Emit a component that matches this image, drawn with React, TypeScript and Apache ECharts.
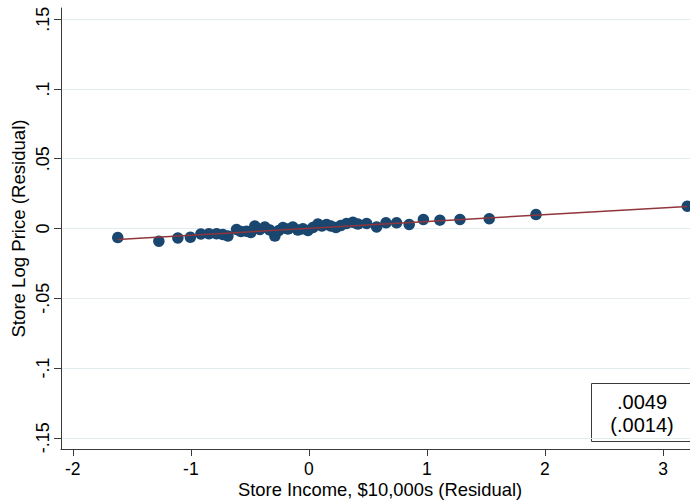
import React, { useEffect, useRef } from "react";
import * as echarts from "echarts";

// Binned scatter points (x: income residual, y: log price residual)
const binX = [
  -1.619, -1.271, -1.11, -1.004, -0.915, -0.847, -0.782, -0.729, -0.686, -0.613,
  -0.576, -0.528, -0.492, -0.458, -0.415, -0.373, -0.331, -0.288, -0.254, -0.22,
  -0.178, -0.136, -0.093, -0.051, -0.008, 0.034, 0.076, 0.11, 0.15, 0.186,
  0.229, 0.271, 0.319, 0.373, 0.415, 0.489, 0.574, 0.653, 0.743, 0.85,
  0.97, 1.11, 1.28, 1.528, 1.924, 3.206,
];
const binY = [
  -0.0065, -0.0091, -0.0068, -0.0063, -0.0039, -0.0038, -0.0038, -0.0043, -0.0054, -0.0007,
  -0.0022, -0.0019, -0.0029, 0.0018, -0.0007, 0.0011, -0.0011, -0.0054, -0.0014, 0.0007,
  -0.0004, 0.0011, -0.0011, -0.0002, -0.0014, 0.0007, 0.0032, 0.0018, 0.0029, 0.0018,
  0.0007, 0.0022, 0.0036, 0.0045, 0.0032, 0.0036, 0.0011, 0.0041, 0.0041, 0.0029,
  0.0065, 0.006, 0.0065, 0.007, 0.01, 0.016,
];

// Fitted line endpoints
const fitX = [-1.619, 3.206];
const fitY = [-0.0078, 0.0158];

const yTickValues = [-0.15, -0.1, -0.05, 0, 0.05, 0.1, 0.15];
const yTickLabels = ["-.15", "-.1", "-.05", "0", ".05", ".1", ".15"];
const xTickValues = [-2, -1, 0, 1, 2, 3];
const xTickLabels = ["-2", "-1", "0", "1", "2", "3"];

const xTitle = "Store Income, $10,000s (Residual)";
const yTitle = "Store Log Price (Residual)";
const coefLabel = ".0049";
const seLabel = "(.0014)";

const FONT = "'Liberation Sans', Arial, sans-serif";

export default function App() {
  const ref = useRef<HTMLDivElement>(null);

  useEffect(() => {
    if (!ref.current) return;
    const chart = echarts.init(ref.current, null, { renderer: "svg" });

    const findLabel = (vals: number[], labels: string[], v: number) => {
      const i = vals.findIndex((t) => Math.abs(t - v) < 1e-9);
      return i >= 0 ? labels[i] : "";
    };

    chart.setOption({
      animation: false,
      backgroundColor: "#ffffff",
      textStyle: { fontFamily: FONT },
      grid: {
        left: 61,
        right: -9,
        top: 8,
        bottom: 52,
        containLabel: false,
        outerBoundsMode: "none",
      },
      xAxis: {
        type: "value",
        min: -2.1,
        max: 3.305,
        name: xTitle,
        nameLocation: "middle",
        nameGap: 31,
        nameMoveOverlap: false,
        nameTextStyle: { fontSize: 18.4, color: "#000", fontFamily: FONT },
        axisLine: { show: true, onZero: false, lineStyle: { color: "#3a3a3a", width: 1 } },
        axisTick: {
          show: true,
          length: 7,
          customValues: xTickValues,
          lineStyle: { color: "#3a3a3a", width: 1 },
        },
        axisLabel: {
          customValues: xTickValues,
          margin: 11,
          fontSize: 17.5,
          color: "#000",
          fontFamily: FONT,
          formatter: (v: number) => findLabel(xTickValues, xTickLabels, v),
        },
        splitLine: { show: false },
      },
      yAxis: {
        type: "value",
        min: -0.158,
        max: 0.158,
        name: yTitle,
        nameLocation: "middle",
        nameGap: 33,
        nameMoveOverlap: false,
        nameTextStyle: { fontSize: 18.6, color: "#000", fontFamily: FONT },
        axisLine: { show: true, onZero: false, lineStyle: { color: "#3a3a3a", width: 1 } },
        axisTick: {
          show: true,
          length: 7,
          customValues: yTickValues,
          lineStyle: { color: "#3a3a3a", width: 1 },
        },
        axisLabel: {
          customValues: yTickValues,
          rotate: 90,
          margin: 9,
          fontSize: 18,
          color: "#000",
          fontFamily: FONT,
          formatter: (v: number) => findLabel(yTickValues, yTickLabels, v),
        },
        splitLine: { show: true, lineStyle: { color: "#e3ecef", width: 1 } },
      },
      series: [
        {
          type: "scatter",
          data: binX.map((x, i) => [x, binY[i]]),
          symbol: "circle",
          symbolSize: 11.5,
          itemStyle: { color: "#1a476f", opacity: 1 },
          silent: true,
          z: 2,
        },
        {
          type: "line",
          data: fitX.map((x, i) => [x, fitY[i]]),
          showSymbol: false,
          symbol: "none",
          lineStyle: { color: "#90353b", width: 1.5 },
          silent: true,
          z: 3,
        },
      ],
      graphic: [
        {
          type: "group",
          z: 10,
          children: [
            {
              type: "rect",
              shape: { x: 591.5, y: 383.5, width: 110, height: 58 },
              style: { fill: "#ffffff", stroke: "#3a3a3a", lineWidth: 1 },
            },
            {
              type: "text",
              x: 642,
              y: 402,
              style: {
                text: coefLabel,
                fontSize: 20,
                fontFamily: FONT,
                fill: "#000",
                textAlign: "center",
                textVerticalAlign: "middle",
              },
            },
            {
              type: "text",
              x: 642,
              y: 425,
              style: {
                text: seLabel,
                fontSize: 20,
                fontFamily: FONT,
                fill: "#000",
                textAlign: "center",
                textVerticalAlign: "middle",
              },
            },
          ],
        },
      ],
    });

    return () => chart.dispose();
  }, []);

  return (
    <div
      ref={ref}
      style={{ position: "fixed", left: 0, top: 0, width: 690, height: 501, background: "#fff" }}
    />
  );
}
